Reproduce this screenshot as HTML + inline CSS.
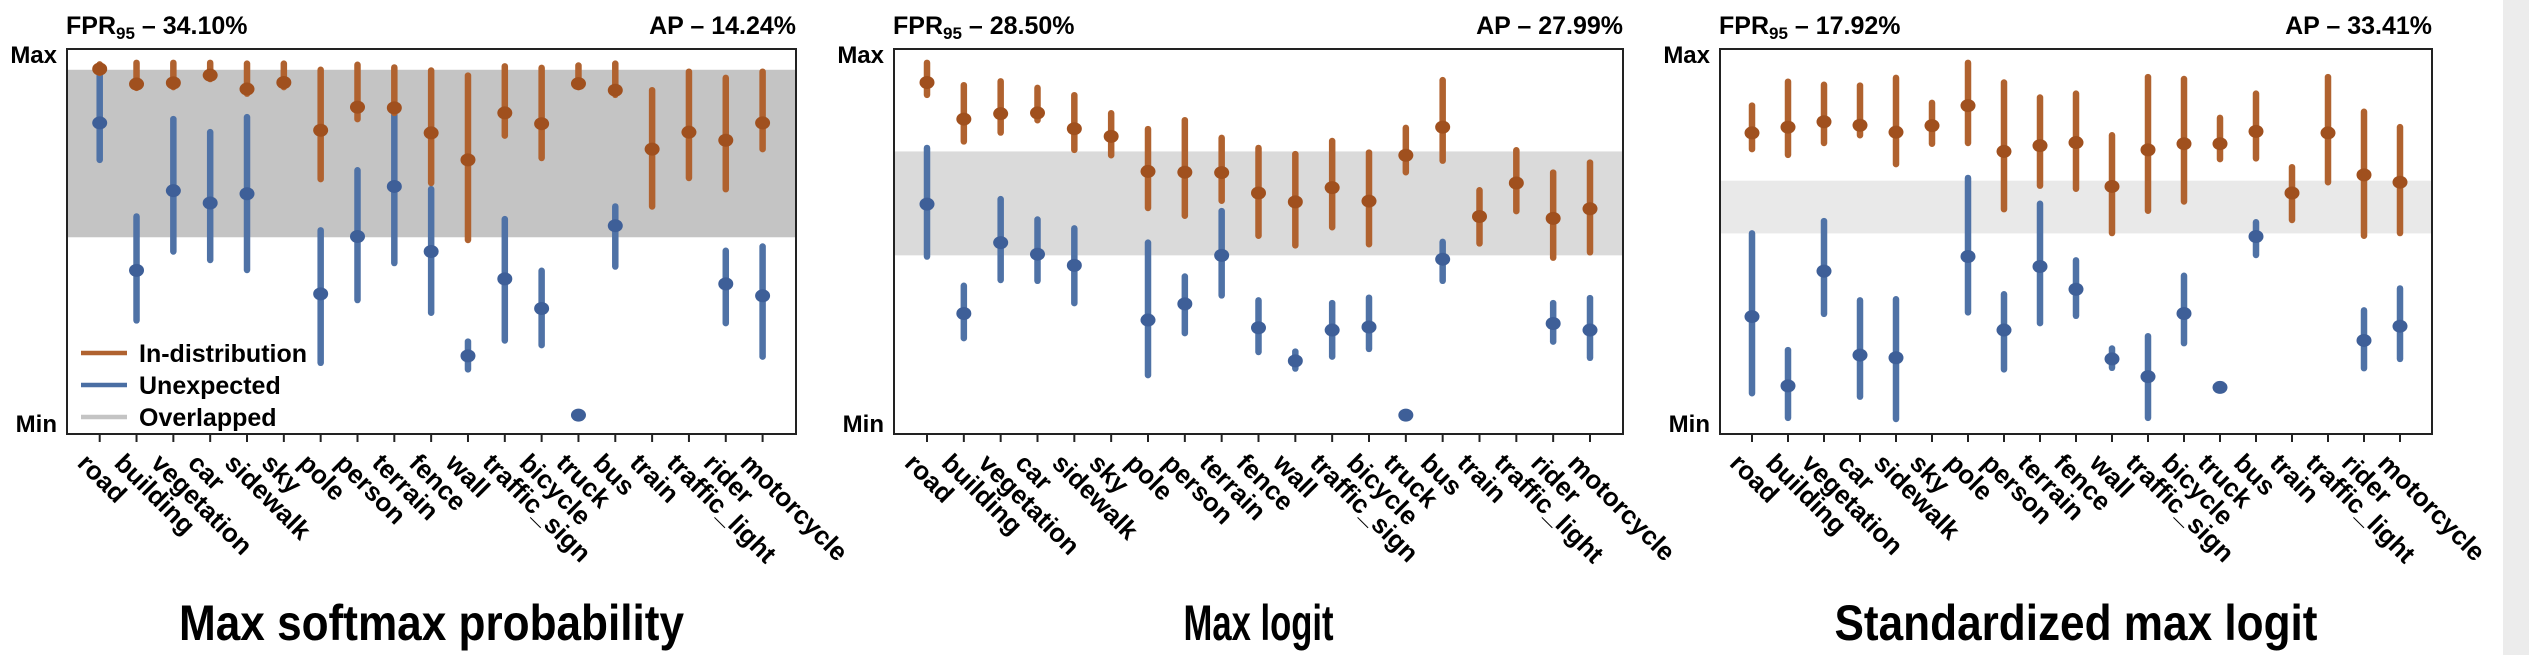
<!DOCTYPE html>
<html><head><meta charset="utf-8"><style>
html,body{margin:0;padding:0;background:#fff;}
svg{display:block;font-family:"Liberation Sans",Arial,sans-serif;font-weight:bold;}
</style></head><body>
<svg id="chart" width="2529" height="655" viewBox="0 0 2529 655" xmlns="http://www.w3.org/2000/svg">
<rect x="2503" y="0" width="26" height="655" fill="#ececec"/>
</svg>
<script>
const categories=["road","building","vegetation","car","sidewalk","sky","pole","person","terrain","fence","wall","traffic_sign","bicycle","truck","bus","train","traffic_light","rider","motorcycle"];
// panel 1: Max softmax probability (0 = Min, 100 = Max)
const msp_id_top=[96.0,96.4,96.4,96.4,96.2,96.2,94.6,95.9,95.2,94.4,93.1,95.5,95.1,95.7,96.2,89.3,94.1,92.5,94.1];
const msp_id_mean=[94.8,90.9,91.2,93.2,89.6,91.3,78.9,84.9,84.7,78.2,71.2,83.4,80.6,91.0,89.3,74.0,78.4,76.3,80.8];
const msp_id_bot=[93.8,89.9,90.1,92.2,88.4,90.1,66.2,81.8,83.4,65.2,50.4,77.5,71.7,90.1,88.1,59.1,66.5,63.6,74.0];
const msp_ood_top=[95.5,56.5,81.8,78.4,82.3,null,52.9,68.5,84.8,63.6,24.0,55.8,42.4,4.9,59.1,null,null,47.6,48.7];
const msp_ood_mean=[80.8,42.5,63.2,60.0,62.4,null,36.4,51.3,64.3,47.4,20.3,40.3,32.6,4.9,54.1,null,null,39.0,35.9];
const msp_ood_bot=[71.2,29.5,47.4,45.2,42.6,null,18.5,34.8,44.4,31.5,16.8,24.3,23.1,4.9,43.5,null,null,28.8,20.1];
const msp_band=[94.6,51.1];
// panel 2: Max logit
const ml_id_top=[96.4,90.6,91.6,89.9,88.0,83.3,79.2,81.5,76.9,74.3,72.7,76.1,73.1,79.5,91.9,63.3,73.7,67.9,70.5];
const ml_id_mean=[91.3,81.8,83.2,83.4,79.3,77.3,68.2,68.0,67.9,62.6,60.3,64.0,60.5,72.4,79.7,56.5,65.2,56.0,58.5];
const ml_id_bot=[88.1,76.0,78.3,81.5,73.8,72.4,58.7,56.7,60.6,51.5,49.0,53.7,49.3,68.0,71.0,49.5,57.9,45.8,47.2];
const ml_ood_top=[74.3,38.5,61.0,55.7,53.4,null,49.7,40.9,57.9,34.7,21.4,34.0,35.4,4.9,49.9,null,null,34.0,35.3];
const ml_ood_mean=[59.7,31.3,49.7,46.7,43.8,null,29.6,33.8,46.4,27.6,19.0,27.0,27.8,4.9,45.4,null,null,28.7,27.0];
const ml_ood_bot=[46.1,24.9,40.0,39.8,34.0,null,15.3,26.2,36.0,21.3,17.0,20.1,22.1,4.9,39.8,null,null,24.0,19.8];
const ml_band=[73.4,46.4];
// panel 3: Standardized max logit
const sml_id_top=[85.3,91.5,90.7,90.5,92.5,86.0,96.4,91.3,87.4,88.4,77.6,92.7,92.2,82.1,88.4,69.3,92.7,83.7,79.7];
const sml_id_mean=[78.2,79.7,81.1,80.2,78.4,80.1,85.3,73.4,74.9,75.7,64.3,73.8,75.4,75.4,78.6,62.6,78.2,67.3,65.4];
const sml_id_bot=[74.0,72.5,75.6,77.6,70.1,75.4,75.6,58.4,64.5,63.7,52.2,58.0,60.4,71.4,71.6,55.6,65.4,51.5,52.2];
const sml_ood_top=[52.1,21.8,55.3,34.7,35.0,null,66.5,36.3,59.8,45.1,22.2,25.4,41.1,12.1,55.0,null,null,32.1,37.8];
const sml_ood_mean=[30.5,12.5,42.3,20.5,19.8,null,46.1,27.0,43.5,37.6,19.5,14.9,31.3,12.1,51.3,null,null,24.3,28.0];
const sml_ood_bot=[10.6,4.2,31.2,9.7,3.9,null,31.6,16.8,28.8,30.7,17.2,4.2,23.6,12.1,46.5,null,null,17.1,19.5];
const sml_band=[65.8,52.1];
const fprLabels=["34.10%","28.50%","17.92%"];
const apLabels=["14.24%","27.99%","33.41%"];
const titles=["Max softmax probability","Max logit","Standardized max logit"];

const NS="http://www.w3.org/2000/svg";
const svg=document.getElementById('chart');
function mk(tag,attrs,parent){const e=document.createElementNS(NS,tag);for(const k in attrs)e.setAttribute(k,attrs[k]);(parent||svg).appendChild(e);return e;}
const Y0=434,Y1=49;
function yScale(v){return Y0-v/100*(Y0-Y1);}
const panels=[
 {name:"msp",x0:67,x1:796,t0:99.7,t1:762.6,band:msp_band,bandColor:"#c4c4c4",id:[msp_id_top,msp_id_mean,msp_id_bot],ood:[msp_ood_top,msp_ood_mean,msp_ood_bot],titleW:505,legend:true},
 {name:"max-logit",x0:894,x1:1623,t0:927,t1:1590,band:ml_band,bandColor:"#dadada",id:[ml_id_top,ml_id_mean,ml_id_bot],ood:[ml_ood_top,ml_ood_mean,ml_ood_bot],titleW:150,legend:false},
 {name:"sml",x0:1720,x1:2432,t0:1752,t1:2400,band:sml_band,bandColor:"#e9e9e9",id:[sml_id_top,sml_id_mean,sml_id_bot],ood:[sml_ood_top,sml_ood_mean,sml_ood_bot],titleW:483,legend:false}
];
panels.forEach((p,pi)=>{
  const g=mk('g',{});
  
  
  const xs=i=>p.t0+i*(p.t1-p.t0)/(categories.length-1);
  const band=mk('rect',{x:p.x0,y:yScale(p.band[0]),width:p.x1-p.x0,height:yScale(p.band[1])-yScale(p.band[0]),fill:p.bandColor},g);
  
  
  function series(arr,lineC,dotC,kind){
    categories.forEach((c,i)=>{
      if(arr[1][i]==null)return;
      const x=xs(i);
      const ln=mk('line',{x1:x,x2:x,y1:yScale(arr[0][i]),y2:yScale(arr[2][i]),stroke:lineC,'stroke-width':6.5,'stroke-linecap':'round'},g);
      
      
      const d=mk('ellipse',{cx:x,cy:yScale(arr[1][i]),rx:7.5,ry:6.5,fill:dotC},g);
      
      
    });
  }
  series(p.ood,"#4f72a6","#3e5f98","unexpected");
  series(p.id,"#b0622f","#a0501e","in-distribution");
  const box=mk('rect',{x:p.x0,y:Y1,width:p.x1-p.x0,height:Y0-Y1,fill:'none',stroke:'#222','stroke-width':2},g);
  
  
  categories.forEach((c,i)=>{
    const x=xs(i);
    const t=mk('line',{x1:x,x2:x,y1:Y0,y2:Y0+8,stroke:'#222','stroke-width':2},g);
    
    
    const tx=mk('text',{x:0,y:0,'font-size':26,transform:`translate(${x-10},${451}) rotate(45)`,'dominant-baseline':'hanging'},g);
    tx.textContent=c;
    
    
  });
  const mx=mk('text',{x:p.x0-10,y:63,'font-size':24,'text-anchor':'end'},g);mx.textContent="Max";
  
  
  const mn=mk('text',{x:p.x0-10,y:432,'font-size':24,'text-anchor':'end'},g);mn.textContent="Min";
  
  
  const f=mk('text',{x:p.x0-1,y:34,'font-size':25},g);
  f.innerHTML='FPR<tspan font-size="17" dy="5">95</tspan><tspan dy="-5"> – '+fprLabels[pi]+'</tspan>';
  
  
  const a=mk('text',{x:p.x1,y:34,'font-size':25,'text-anchor':'end'},g);
  a.textContent='AP – '+apLabels[pi];
  
  
  const ti=mk('text',{x:(p.x0+p.x1)/2,y:640,'font-size':50,'text-anchor':'middle',textLength:p.titleW,lengthAdjust:'spacingAndGlyphs'},g);
  ti.textContent=titles[pi];
  
  
  if(p.legend){
    const items=[["In-distribution","#b0622f",353],["Unexpected","#4a6ea3",385],["Overlapped","#c4c4c4",417]];
    items.forEach(it=>{
      const l=mk('line',{x1:81,x2:127,y1:it[2],y2:it[2],stroke:it[1],'stroke-width':4.5},g);
      
      
      const t=mk('text',{x:139,y:it[2]+9,'font-size':25},g);
      t.textContent=it[0];
      
      
    });
  }
});
</script>
</body></html>
